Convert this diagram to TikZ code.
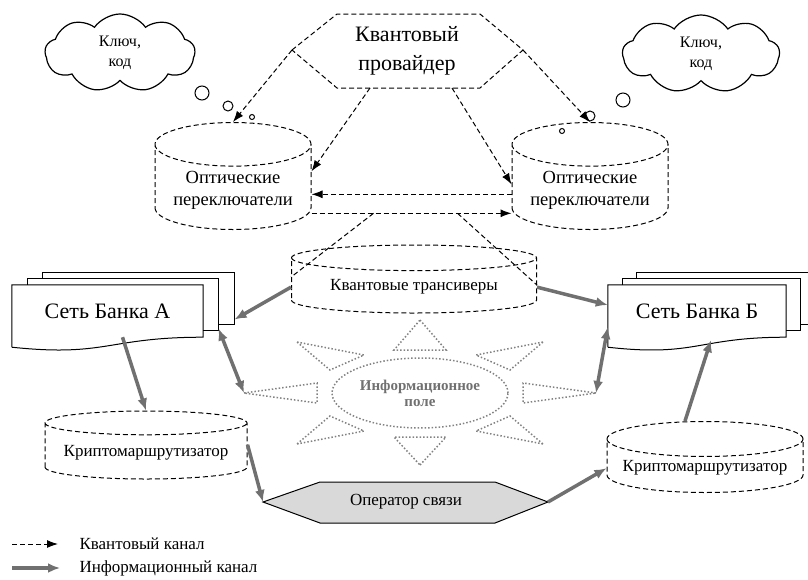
\documentclass[tikz,border=0pt]{standalone}
\usepackage{fontspec}
\setmainfont{Liberation Serif}
\usetikzlibrary{arrows.meta,shapes.geometric,shapes.symbols}
\definecolor{infogray}{RGB}{112,112,112}
\definecolor{raygray}{RGB}{130,130,130}
\definecolor{opgray}{RGB}{217,217,217}

\begin{document}
\begin{tikzpicture}[x=1pt,y=-1pt]
\tikzset{qline/.style = {draw, line width=1pt, dash pattern=on 5pt off 3pt}}
\tikzset{qarrow/.style = {qline, -{Latex[length=11pt,width=8pt]}}}
\tikzset{iarrow/.style = {draw=infogray, line width=3.5pt, -{Latex[length=12pt,width=10pt]}}}
\tikzset{iboth/.style = {iarrow, {Latex[length=12pt,width=10pt]}-{Latex[length=12pt,width=10pt]}}}
\tikzset{cyl/.style = {cylinder, shape border rotate=90, anchor=shape center, qline, align=center, font=\fontsize{17}{21}\selectfont}}
\tikzset{thought/.style = {cloud, cloud puffs=9, cloud puff arc=110, draw, line width=1.2pt, shape aspect=2, align=center, font=\fontsize{16}{20}\selectfont}}
\tikzset{bubble/.style = {circle, draw, line width=1pt, inner sep=0pt}}
\tikzset{sheet/.style = {rectangle, draw, fill=white, line width=1pt, minimum height=52}}
\tikzset{docbox/.style = {rectangle, fill=white, minimum height=52, font=\fontsize{22}{26}\selectfont}}
\tikzset{docline/.style = {draw, line width=1pt}}
\tikzset{ray/.style = {draw=raygray, line width=1.5pt, dotted}}
\useasboundingbox (0,0) rectangle (808,579);
\clip (0,0) rectangle (808,579);

% clouds
\node[thought, minimum width=150, minimum height=78] (keyL) at (120,53) {Ключ,\\код};
\node[thought, minimum width=157, minimum height=78] (keyR) at (701,54) {Ключ,\\код};
\node[bubble, minimum size=14] (bL1) at (202,93) {};
\node[bubble, minimum size=10] (bL2) at (228,106) {};
\node[bubble, minimum size=5] (bL3) at (252,117) {};
\node[bubble, minimum size=14] (bR1) at (623,100) {};
\node[bubble, minimum size=10] (bR2) at (590,116) {};
\node[bubble, minimum size=5] (bR3) at (562,131) {};

% quantum provider
\coordinate (provW) at (292,50);
\coordinate (provNW) at (337,14);
\coordinate (provNE) at (480,14);
\coordinate (provE) at (523,50);
\coordinate (provSE) at (480,88);
\coordinate (provSW) at (337,88);
\draw[qline] (provW) -- (provNW) -- (provNE) -- (provE) -- (provSE) -- (provSW) -- cycle;
\node[align=center, font=\fontsize{22}{29}\selectfont] (prov) at (407,51) {Квантовый\\провайдер};
\coordinate (provBL) at (370,88);
\coordinate (provBR) at (452,88);

% cylinders
\node[cyl, font=\fontsize{18.5}{22}\selectfont, minimum width=156, minimum height=107, shape aspect=0.346] (optL) at (233,176) {Оптические\\переключатели};
\node[cyl, font=\fontsize{18.5}{22}\selectfont, minimum width=156, minimum height=107, shape aspect=0.346] (optR) at (590,176) {Оптические\\переключатели};
\node[cyl, minimum width=245, minimum height=68, shape aspect=0.147] (trans) at (414,279) {Квантовые трансиверы};
\node[cyl, minimum width=202, minimum height=68, shape aspect=0.139] (kriptA) at (146,445) {Криптомаршрутизатор};
\node[cyl, minimum width=196, minimum height=71, shape aspect=0.204] (kriptB) at (705,457) {Криптомаршрутизатор};

% quantum channels
\draw[qarrow] (provW) -- (optL.north);
\draw[qarrow] (provBL) -- ([yshift=19pt]optL.east);
\draw[qarrow] (provE) -- (optR.north);
\draw[qarrow] (provBR) -- ([yshift=6pt]optR.west);
\draw[qarrow] ([yshift=-4pt]optR.west) -- ([yshift=-4pt]optL.east);
\draw[qarrow] ([yshift=-23pt]optL.east) -- coordinate[pos=0.31] (qjL) coordinate[pos=0.73] (qjR) ([yshift=-23pt]optR.west);
\draw[qline] (qjL) -- ([yshift=10pt]trans.west);
\draw[qline] (qjR) -- ([yshift=2pt]trans.east);

% bank networks
\node[sheet, minimum width=192] (bankA3) at (138,298) {};
\node[sheet, minimum width=191] (bankA2) at (122.5,304) {};
\node[docbox, minimum width=191] (bankA) at (107.5,311) {Сеть Банка А};
\draw[docline] ([yshift=-10pt]bankA.south west) -- (bankA.north west) -- (bankA.north east) -- (bankA.south east)
  .. controls +(-96,0) and +(95,10) .. ([yshift=-10pt]bankA.south west);
\node[sheet, minimum width=178] (bankB3) at (725,298) {};
\node[sheet, minimum width=178] (bankB2) at (711,304) {};
\node[docbox, minimum width=178] (bankB) at (697,311) {Сеть Банка Б};
\draw[docline] ([yshift=-10pt]bankB.south west) -- (bankB.north west) -- (bankB.north east) -- (bankB.south east)
  .. controls +(-89,0) and +(89,10) .. ([yshift=-10pt]bankB.south west);

% information field
\node[ellipse, ray, inner sep=0pt, minimum width=176, minimum height=70, align=center, text=infogray,
  font=\bfseries\fontsize{15}{16}\selectfont] (field) at (420,393) {Информационное\\поле};
\begin{scope}[shift={(420,393)}]
\coordinate (rayW) at (-176,0);
\coordinate (rayE) at (176,0);
\draw[ray] (0,-73) -- (26,-43) -- (-26,-43) -- cycle;
\draw[ray] (0,72) -- (26,44) -- (-26,44) -- cycle;
\draw[ray] (rayW) -- (-103,-10) -- (-103,10) -- cycle;
\draw[ray] (rayE) -- (103,-10) -- (103,10) -- cycle;
\draw[ray] (-123,-51) -- (-56,-38) -- (-90,-23) -- cycle;
\draw[ray] (123,-51) -- (56,-38) -- (90,-23) -- cycle;
\draw[ray] (-123,51) -- (-56,38) -- (-90,23) -- cycle;
\draw[ray] (123,51) -- (56,38) -- (90,23) -- cycle;
\end{scope}

% communication operator
\coordinate (opW) at (263,502);
\coordinate (opNW) at (320,482);
\coordinate (opNE) at (495,482);
\coordinate (opE) at (548,502);
\coordinate (opSE) at (495,523);
\coordinate (opSW) at (320,523);
\filldraw[fill=opgray, line width=1pt] (opW) -- (opNW) -- (opNE) -- (opE) -- (opSE) -- (opSW) -- cycle;
\node[font=\fontsize{17}{20}\selectfont] (oper) at (406,502) {Оператор связи};

% information channels
\draw[iarrow] (trans.west) -- ([yshift=5pt]bankA3.south east);
\draw[iarrow] (trans.east) -- ([yshift=6pt]bankB.west);
\draw[iboth] ([yshift=2pt]bankA2.south east) -- (rayW);
\draw[iboth] ([yshift=-16pt]bankB.west) -- (rayE);
\draw[iarrow] ([xshift=15pt]bankA.south) -- (kriptA.north);
\draw[iarrow] ([xshift=-20pt]kriptB.north) -- ([xshift=14pt,yshift=-3pt]bankB.south);
\draw[iarrow] ([yshift=8pt]kriptA.east) -- (opW);
\draw[iarrow] (opE) -- (kriptB.west);

% legend
\coordinate (legQ1) at (12,544);
\coordinate (legQ2) at (58,544);
\coordinate (legI1) at (12,568);
\coordinate (legI2) at (60,568);
\draw[qarrow] (legQ1) -- (legQ2);
\draw[iarrow] (legI1) -- (legI2);
\node[anchor=west, font=\fontsize{17}{19}\selectfont] (legQ) at (76,544) {Квантовый канал};
\node[anchor=west, font=\fontsize{17}{19}\selectfont] (legI) at (76,568) {Информационный канал};
\end{tikzpicture}
\end{document}
